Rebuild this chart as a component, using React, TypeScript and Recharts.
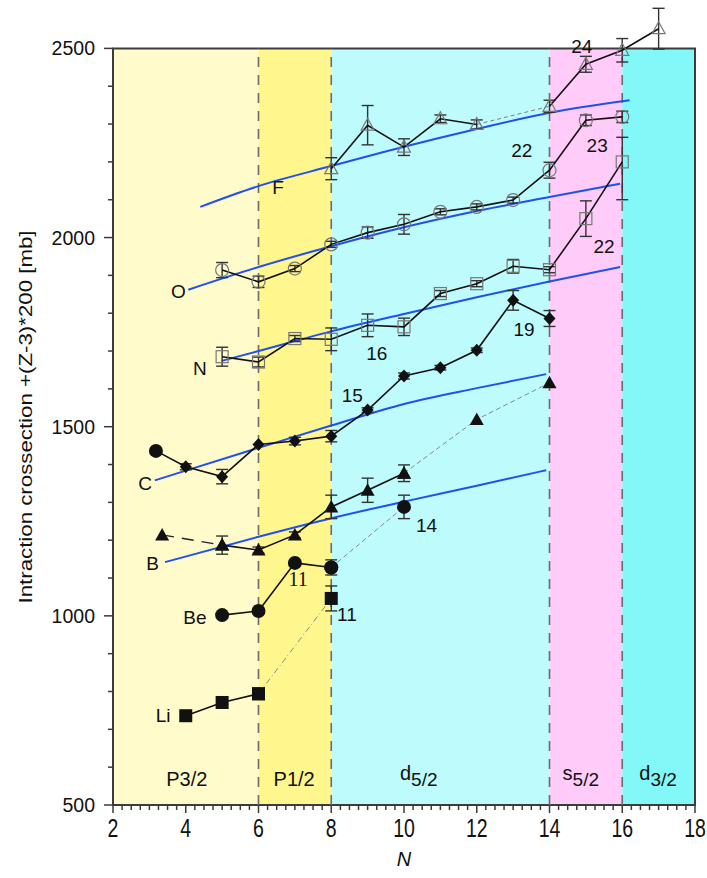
import {
  ComposedChart,
  Line,
  XAxis,
  YAxis,
  ErrorBar,
  ReferenceArea,
  ReferenceLine,
  ReferenceDot,
} from "recharts";

type Pt = { n: number; v: number; e?: number | number[] | null };
type Curve = { n: number; v: number };

// shell bands along N
const bandEdges = [2, 6, 8, 14, 16, 18];
const bandColors = ["#FFFBCB", "#FFF68E", "#BEFBFC", "#FFCCF9", "#83F8F8"];
const shellBorders = [6, 8, 14, 16];
const shellLabels = [
  { n: 4.03, main: "P3/2", sub: "" },
  { n: 6.98, main: "P1/2", sub: "" },
  { n: 9.89, main: "d", sub: "5/2" },
  { n: 14.36, main: "s", sub: "5/2" },
  { n: 16.47, main: "d", sub: "3/2" },
];

const xTicks = Array.from({ length: 65 }, (_, i) => 2 + i * 0.25);
const yTicks = [
  500, 600, 700, 800, 900, 1000, 1100, 1200, 1300, 1400, 1500, 1600, 1700, 1800,
  1900, 2000, 2100, 2200, 2300, 2400, 2500,
];

// measured cross sections (+(Z-3)*200)
const liSolid: Pt[] = [{ n: 4, v: 736 }, { n: 5, v: 771 }, { n: 6, v: 794 }];
const liDashed: Pt[] = [{ n: 6, v: 794, e: null }, { n: 8, v: 1046, e: 33 }];

const beSolid: Pt[] = [
  { n: 5, v: 1002 },
  { n: 6, v: 1013 },
  { n: 7, v: 1140 },
  { n: 8, v: 1128, e: 20 },
];
const beDashed: Pt[] = [{ n: 8, v: 1128, e: null }, { n: 10, v: 1288, e: 31 }];

const bLead: Pt[] = [{ n: 3.35, v: 1214 }, { n: 5, v: 1187 }];
const bSolid: Pt[] = [
  { n: 5, v: 1187, e: 24 },
  { n: 6, v: 1174, e: 8 },
  { n: 7, v: 1214, e: 8 },
  { n: 8, v: 1288, e: 31 },
  { n: 9, v: 1332, e: 32 },
  { n: 10, v: 1377, e: 22 },
];
const bDashed: Pt[] = [{ n: 10, v: 1377 }, { n: 12, v: 1519 }, { n: 14, v: 1616 }];

const cSolid: Pt[] = [
  { n: 3.18, v: 1436, e: null },
  { n: 4, v: 1394, e: 8 },
  { n: 5, v: 1368, e: 19 },
  { n: 6, v: 1453, e: null },
  { n: 7, v: 1462, e: 10 },
  { n: 8, v: 1475, e: 15 },
  { n: 9, v: 1544, e: 6 },
  { n: 10, v: 1634, e: 8 },
  { n: 11, v: 1656, e: 6 },
  { n: 12, v: 1702, e: 6 },
  { n: 13, v: 1834, e: 26 },
  { n: 14, v: 1786, e: 21 },
];

const nSolid: Pt[] = [
  { n: 5, v: 1685, e: 25 },
  { n: 6, v: 1671, e: 13 },
  { n: 7, v: 1733, e: 8 },
  { n: 8, v: 1731, e: 30 },
  { n: 9, v: 1768, e: 30 },
  { n: 10, v: 1764, e: 23 },
  { n: 11, v: 1852, e: 8 },
  { n: 12, v: 1878, e: 8 },
  { n: 13, v: 1924, e: 18 },
  { n: 14, v: 1915, e: 8 },
  { n: 15, v: 2050, e: 47 },
  { n: 16, v: 2200, e: [100, 65] },
];

const oSolid: Pt[] = [
  { n: 5, v: 1914, e: 20 },
  { n: 6, v: 1883, e: 15 },
  { n: 7, v: 1918, e: 8 },
  { n: 8, v: 1982, e: 8 },
  { n: 9, v: 2013, e: 15 },
  { n: 10, v: 2035, e: 26 },
  { n: 11, v: 2068, e: 8 },
  { n: 12, v: 2081, e: 8 },
  { n: 13, v: 2099, e: 8 },
  { n: 14, v: 2178, e: 21 },
  { n: 15, v: 2310, e: 14 },
  { n: 16, v: 2319, e: 15 },
];

const fSolidA: Pt[] = [
  { n: 8, v: 2182, e: 29 },
  { n: 9, v: 2297, e: 52 },
  { n: 10, v: 2239, e: 22 },
  { n: 11, v: 2314, e: 10 },
  { n: 12, v: 2299, e: 12 },
];
const fDashed: Pt[] = [{ n: 12, v: 2299 }, { n: 14, v: 2347 }];
const fSolidB: Pt[] = [
  { n: 14, v: 2347, e: 16 },
  { n: 15, v: 2458, e: 21 },
  { n: 16, v: 2495, e: 31 },
  { n: 17, v: 2552, e: 54 },
];

// theory curves
const fCurve: Curve[] = [
  { n: 4.4, v: 2081 }, { n: 6, v: 2136 }, { n: 8, v: 2189 }, { n: 10, v: 2240 },
  { n: 12, v: 2287 }, { n: 14, v: 2330 }, { n: 16.2, v: 2363 },
];
const oCurve: Curve[] = [
  { n: 4.07, v: 1862 }, { n: 6, v: 1922 }, { n: 8, v: 1977 }, { n: 10, v: 2027 },
  { n: 12, v: 2070 }, { n: 14, v: 2107 }, { n: 15.94, v: 2142 },
];
const nCurve: Curve[] = [
  { n: 4.99, v: 1674 }, { n: 6, v: 1700 }, { n: 8, v: 1752 }, { n: 10, v: 1798 },
  { n: 12, v: 1842 }, { n: 14, v: 1884 }, { n: 15.94, v: 1922 },
];
const cCurve: Curve[] = [
  { n: 3.15, v: 1358 }, { n: 4, v: 1384 }, { n: 6, v: 1444 }, { n: 8, v: 1503 },
  { n: 10, v: 1560 }, { n: 12, v: 1602 }, { n: 13.91, v: 1639 },
];
const bCurve: Curve[] = [
  { n: 3.43, v: 1142 }, { n: 6, v: 1209 }, { n: 8, v: 1258 }, { n: 10, v: 1302 },
  { n: 12, v: 1344 }, { n: 13.91, v: 1385 },
];

const annotations = [
  { n: 6.54, v: 2134, text: "F" },
  { n: 3.8, v: 1857, text: "O" },
  { n: 4.39, v: 1655, text: "N" },
  { n: 2.88, v: 1352, text: "C" },
  { n: 3.09, v: 1139, text: "B" },
  { n: 4.25, v: 996, text: "Be" },
  { n: 3.38, v: 738, text: "Li" },
  { n: 9.25, v: 1694, text: "16" },
  { n: 8.58, v: 1584, text: "15" },
  { n: 13.3, v: 1757, text: "19" },
  { n: 10.62, v: 1240, text: "14" },
  { n: 13.24, v: 2231, text: "22" },
  { n: 15.31, v: 2244, text: "23" },
  { n: 15.5, v: 1976, text: "22" },
  { n: 14.89, v: 2507, text: "24" },
  { n: 8.43, v: 1005, text: "11" },
];
const serifNote = { n: 7.09, v: 1097, text: "11" };

const FONT = "'Liberation Sans', Arial, Helvetica, sans-serif";
const AXIS = "#3c3c3c";
const INK = "#111";
const OPEN = "#777";
const BLUE = "#2050F0";

function Marker({ kind, cx, cy }: { kind: string; cx: number; cy: number }) {
  if (cx == null || cy == null || isNaN(cx) || isNaN(cy)) return null;
  switch (kind) {
    case "fsq":
      return <rect x={cx - 6.5} y={cy - 6.5} width={13} height={13} fill={INK} />;
    case "fci":
      return <circle cx={cx} cy={cy} r={7} fill={INK} />;
    case "ftr":
      return <polygon points={`${cx},${cy - 7} ${cx + 7},${cy + 5.5} ${cx - 7},${cy + 5.5}`} fill={INK} />;
    case "fdi":
      return <polygon points={`${cx},${cy - 6.5} ${cx + 6},${cy} ${cx},${cy + 6.5} ${cx - 6},${cy}`} fill={INK} />;
    case "osq":
      return <rect x={cx - 6} y={cy - 6} width={12} height={12} fill="none" stroke={OPEN} strokeWidth={1.2} />;
    case "oci":
      return <circle cx={cx} cy={cy} r={6.5} fill="none" stroke={OPEN} strokeWidth={1.2} />;
    case "otr":
      return (
        <polygon
          points={`${cx},${cy - 7} ${cx + 6.5},${cy + 5} ${cx - 6.5},${cy + 5}`}
          fill="none"
          stroke={OPEN}
          strokeWidth={1.2}
        />
      );
    default:
      return null;
  }
}

const dotOf = (kind: string, id: string, first?: string) => (p: any) => (
  <Marker
    key={`${id}-${p.index}`}
    kind={p.index === 0 && first ? first : kind}
    cx={p.cx}
    cy={p.cy}
  />
);

function XTick(props: any) {
  const { x, y, payload } = props;
  const v = payload.value as number;
  const major = Math.abs(v - Math.round(v)) < 1e-6 && Math.round(v) % 2 === 0;
  return (
    <g>
      <line x1={x} x2={x} y1={y} y2={y + (major ? 8 : 5)} stroke={AXIS} strokeWidth={1.5} />
      {major && (
        <text
          transform={`translate(${x},${y + 32}) scale(1,1.3)`}
          textAnchor="middle"
          fontSize={19.5}
          fill={INK}
          fontFamily={FONT}
        >
          {v}
        </text>
      )}
    </g>
  );
}

function YTick(props: any) {
  const { x, y, payload } = props;
  const v = payload.value as number;
  const major = v % 500 === 0;
  return (
    <g>
      <line x1={x - (major ? 9 : 5)} x2={x} y1={y} y2={y} stroke={AXIS} strokeWidth={1.5} />
      {major && (
        <text x={x - 18} y={y} dy={7} textAnchor="end" fontSize={19.5} fill={INK} fontFamily={FONT}>
          {v}
        </text>
      )}
    </g>
  );
}

const solid = { stroke: INK, strokeWidth: 1.6, type: "linear" as const, dataKey: "v", activeDot: false, isAnimationActive: false, legendType: "none" as const };
const errProps = { dataKey: "e", width: 6, stroke: "#333", strokeWidth: 1.4, direction: "y" as const };

export default function App() {
  return (
    <div style={{ position: "absolute", left: 0, top: 0, width: 707, height: 878, fontFamily: FONT }}>
      <ComposedChart width={707} height={878} margin={{ top: 3, right: 12, bottom: 18, left: 0 }}>
        <XAxis
          type="number"
          dataKey="n"
          domain={[2, 18]}
          ticks={xTicks}
          interval={0}
          allowDataOverflow
          axisLine={false}
          tickLine={false}
          tickSize={0}
          tickMargin={0}
          height={55}
          tick={(p: any) => <XTick {...p} />}
          label={{
            content: () => (
              <text x={404} y={866} textAnchor="middle" fontSize={20} fontStyle="italic" fill={INK} fontFamily={FONT}>
                N
              </text>
            ),
          }}
        />
        <YAxis
          type="number"
          domain={[500, 2620]}
          ticks={yTicks}
          interval={0}
          allowDataOverflow
          axisLine={false}
          tickLine={false}
          tickSize={0}
          tickMargin={0}
          width={113}
          tick={(p: any) => <YTick {...p} />}
          label={{
            content: () => (
              <text
                transform="translate(32,417) rotate(-90)"
                textAnchor="middle"
                fontSize={18}
                fill={INK}
                fontFamily={FONT}
                textLength={373}
                lengthAdjust="spacingAndGlyphs"
              >
                Intraction crossection +(Z-3)*200 [mb]
              </text>
            ),
          }}
        />

        {bandColors.map((c, i) => (
          <ReferenceArea
            key={`band-${i}`}
            x1={bandEdges[i]}
            x2={bandEdges[i + 1]}
            y1={500}
            y2={2500}
            fill={c}
            fillOpacity={1}
            stroke="none"
          />
        ))}
        <ReferenceArea x1={2} x2={18} y1={500} y2={2500} fill="none" stroke={AXIS} strokeWidth={2} />
        {shellBorders.map((b) => (
          <ReferenceLine
            key={`border-${b}`}
            segment={[{ x: b, y: 500 }, { x: b, y: 2500 }]}
            stroke="#6a6a6a"
            strokeWidth={1.6}
            strokeDasharray="10 8"
          />
        ))}
        {shellLabels.map((s, i) => (
          <ReferenceDot
            key={`shell-${i}`}
            x={s.n}
            y={s.sub ? 566 : 550}
            r={0}
            shape={(p: any) =>
              s.sub ? (
                <text x={p.cx} y={p.cy} textAnchor="start" fontSize={20} fill={INK} fontFamily={FONT}>
                  {s.main}
                  <tspan dy={6} fontSize={19}>
                    {s.sub}
                  </tspan>
                </text>
              ) : (
                <text x={p.cx} y={p.cy} textAnchor="middle" fontSize={20} fill={INK} fontFamily={FONT}>
                  {s.main}
                </text>
              )
            }
          />
        ))}

        {[fCurve, oCurve, nCurve, cCurve, bCurve].map((c, i) => (
          <Line
            key={`curve-${i}`}
            data={c}
            dataKey="v"
            type="monotone"
            stroke={BLUE}
            strokeWidth={2}
            dot={false}
            activeDot={false}
            isAnimationActive={false}
            legendType="none"
          />
        ))}

        <Line {...solid} data={liDashed} stroke="#8a8a8a" strokeWidth={1} strokeDasharray="6 3 1 3" dot={dotOf("fsq", "lid")}>
          <ErrorBar {...errProps} />
        </Line>
        <Line {...solid} data={liSolid} dot={dotOf("fsq", "li")} />

        <Line {...solid} data={beDashed} stroke="#8a8a8a" strokeWidth={1} strokeDasharray="5 3" dot={dotOf("fci", "bed")}>
          <ErrorBar {...errProps} />
        </Line>
        <Line {...solid} data={beSolid} dot={dotOf("fci", "be")}>
          <ErrorBar {...errProps} />
        </Line>

        <Line {...solid} data={bLead} stroke="#222" strokeWidth={1.3} strokeDasharray="12 8" dot={dotOf("ftr", "bl")} />
        <Line {...solid} data={bDashed} stroke="#8a8a8a" strokeWidth={1} strokeDasharray="5 3" dot={dotOf("ftr", "bd")} />
        <Line {...solid} data={bSolid} dot={dotOf("ftr", "b")}>
          <ErrorBar {...errProps} />
        </Line>

        <Line {...solid} data={cSolid} dot={dotOf("fdi", "c", "fci")}>
          <ErrorBar {...errProps} />
        </Line>

        <Line {...solid} data={nSolid} dot={dotOf("osq", "n")}>
          <ErrorBar {...errProps} />
        </Line>

        <Line {...solid} data={oSolid} dot={dotOf("oci", "o")}>
          <ErrorBar {...errProps} />
        </Line>

        <Line {...solid} data={fDashed} stroke="#808080" strokeWidth={1} strokeDasharray="4 3" dot={false} />
        <Line {...solid} data={fSolidA} dot={dotOf("otr", "fa")}>
          <ErrorBar {...errProps} />
        </Line>
        <Line {...solid} data={fSolidB} dot={dotOf("otr", "fb")}>
          <ErrorBar {...errProps} />
        </Line>

        {annotations.map((a, i) => (
          <ReferenceDot
            key={`ann-${i}`}
            x={a.n}
            y={a.v}
            r={0}
            ifOverflow="visible"
            shape={(p: any) => (
              <text x={p.cx} y={p.cy} dy="0.36em" textAnchor="middle" fontSize={19} fill={INK} fontFamily={FONT}>
                {a.text}
              </text>
            )}
          />
        ))}
        <ReferenceDot
          x={serifNote.n}
          y={serifNote.v}
          r={0}
          shape={(p: any) => (
            <text
              x={p.cx}
              y={p.cy}
              dy="0.36em"
              textAnchor="middle"
              fontSize={20}
              fill={INK}
              fontFamily="'Liberation Serif', 'Times New Roman', serif"
            >
              {serifNote.text}
            </text>
          )}
        />
      </ComposedChart>
    </div>
  );
}
